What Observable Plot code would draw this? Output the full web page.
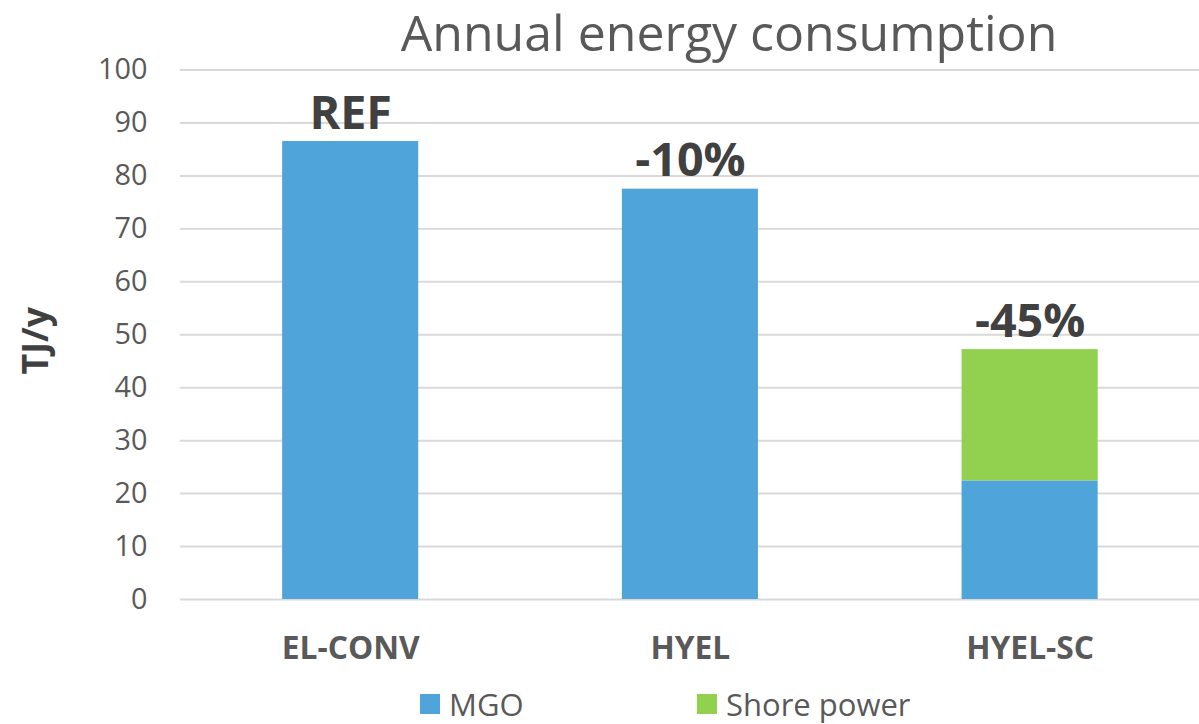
<!DOCTYPE html>
<html>
<head>
<meta charset="utf-8">
<script src="https://cdn.jsdelivr.net/npm/d3@7"></script>
<script src="https://cdn.jsdelivr.net/npm/@observablehq/plot@0.6"></script>
<style>
  html, body { margin: 0; padding: 0; background: #fff; overflow: hidden; width: 1199px; height: 724px; }
  body { position: relative; font-family: "Open Sans", sans-serif; }
  #chart { position: absolute; left: 0; top: 0; }
  #title { position: absolute; left: 181px; width: 1096px; top: 0px; line-height: 64px; text-align: center; font-size: 50px; color: #595959; white-space: nowrap; }
  #legend { position: absolute; top: 684px; left: 0; width: 1199px; height: 40px; font-size: 31px; line-height: 40px; color: #595959; }
  .lg { position: absolute; display: flex; align-items: center; white-space: nowrap; height: 40px; }
  .sw { width: 20px; height: 20px; margin-right: 9px; }
</style>
</head>
<body>
<div id="title">Annual energy consumption</div>
<div id="chart"></div>
<div id="legend"></div>
<script>
const categories = ["EL-CONV", "HYEL", "HYEL-SC"];
const seriesNames = ["MGO", "Shore power"];
const mgo = [86.5, 77.5, 22.4];
const shorePower = [0, 0, 24.8];
const barLabels = ["REF", "-10%", "-45%"];
const yTicks = [0, 10, 20, 30, 40, 50, 60, 70, 80, 90, 100];
const colors = ["#4FA5DA", "#92D050"];

const rows = [];
categories.forEach((c, i) => {
  rows.push({cat: c, series: seriesNames[0], value: mgo[i]});
  rows.push({cat: c, series: seriesNames[1], value: shorePower[i]});
});
const totals = categories.map((c, i) => ({cat: c, total: mgo[i] + shorePower[i], label: barLabels[i]}));

const chart = Plot.plot({
  width: 1207,
  height: 724,
  marginTop: 70,
  marginBottom: 121,
  marginLeft: 181,
  marginRight: 0,
  style: {fontFamily: "Open Sans, sans-serif", background: "transparent", overflow: "visible"},
  x: {domain: categories, paddingInner: 0.6, paddingOuter: 0.3, label: null},
  y: {domain: [0, 100], range: [603, 70], label: null},
  color: {domain: seriesNames, range: colors},
  marks: [
    Plot.ruleY(yTicks, {stroke: "#d9d9d9", strokeWidth: 2}),
    Plot.barY(rows, {x: "cat", y: "value", fill: "series"}),
    Plot.axisY({ticks: yTicks, tickSize: 0, tickPadding: 33, fontSize: 29, fill: "#595959", label: null}),
    Plot.axisX({tickSize: 0, tickPadding: 37, fontSize: 32, fontWeight: "bold", fill: "#595959", label: null}),
    Plot.text(totals, {x: "cat", y: "total", text: "label", dy: -13, lineAnchor: "bottom", fontSize: 47, fontWeight: "bold", fill: "#404040"}),
    Plot.text(["TJ/y"], {frameAnchor: "left", dx: -145, dy: 40, rotate: -90, fontSize: 36, fontWeight: "bold", fill: "#404040"})
  ]
});
document.getElementById("chart").appendChild(chart);

const legend = document.getElementById("legend");
const legendPos = [420, 697];
seriesNames.forEach((s, i) => {
  const d = document.createElement("div");
  d.className = "lg";
  d.style.left = legendPos[i] + "px";
  d.style.top = "0px";
  d.innerHTML = `<div class="sw" style="background:${colors[i]}"></div><span>${s}</span>`;
  legend.appendChild(d);
});
</script>
</body>
</html>
